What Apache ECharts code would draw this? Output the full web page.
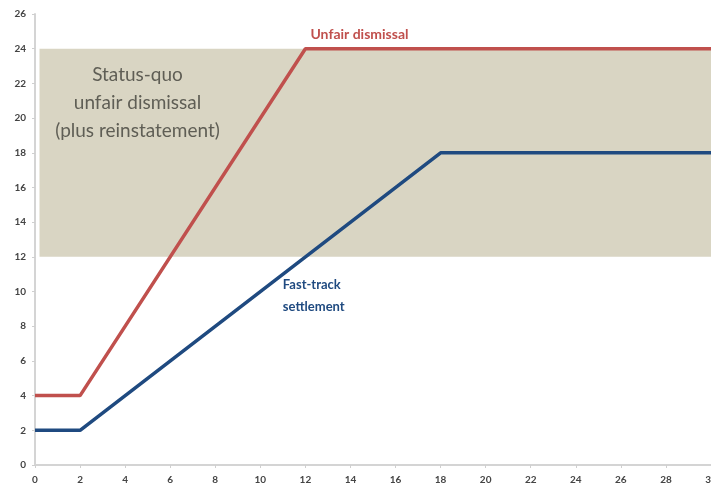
<!DOCTYPE html>
<html>
<head>
<meta charset="utf-8">
<script src="https://cdn.jsdelivr.net/npm/echarts@6/dist/echarts.min.js"></script>
<style>
  html, body { margin: 0; padding: 0; background: #fff; }
  #main { width: 711px; height: 489px; }
</style>
</head>
<body>
<div id="main"></div>
<script>
// months vs cost
var unfairPts = [[0, 4], [2, 4], [12, 24], [30, 24]];
var fastPts = [[0, 2], [2, 2], [18, 18], [30, 18]];
var bandRange = [12, 24];   // status-quo band, y from/to
var xTicks = [0, 30, 2];    // min, max, step
var yTicks = [0, 26, 2];

var chart = echarts.init(document.getElementById('main'));
var fontFam = 'Lato, "Open Sans", sans-serif';

var option = {
  animation: false,
  grid: { left: 35, right: 0, top: 14, bottom: 24, outerBoundsMode: 'none', containLabel: false },
  xAxis: {
    type: 'value', min: xTicks[0], max: xTicks[1], interval: xTicks[2],
    axisLine: { lineStyle: { color: '#d4d4d4', width: 2 } },
    axisTick: { show: true, length: 3, lineStyle: { color: '#cfcfcf' } },
    axisLabel: { color: '#444', fontSize: 10, fontFamily: fontFam, fontWeight: 'bold', margin: 10 },
    splitLine: { show: false }
  },
  yAxis: {
    type: 'value', min: yTicks[0], max: yTicks[1], interval: yTicks[2],
    axisLine: { show: true, lineStyle: { color: '#d4d4d4', width: 2 } },
    axisTick: { show: true, length: 3, lineStyle: { color: '#cfcfcf' } },
    axisLabel: { color: '#444', fontSize: 10, fontFamily: fontFam, fontWeight: 'bold', margin: 9 },
    splitLine: { show: false }
  },
  series: [
    {
      name: 'Unfair dismissal',
      type: 'line',
      data: unfairPts,
      symbol: 'none',
      z: 3,
      lineStyle: { color: '#c0504d', width: 3.5 },
      markArea: {
        silent: true,
        itemStyle: { color: '#d9d5c3' },
        data: [[{ xAxis: 0.2, yAxis: bandRange[0] }, { xAxis: xTicks[1], yAxis: bandRange[1] }]]
      },
      markPoint: {
        symbol: 'circle', symbolSize: 0, silent: true,
        data: [
          {
            coord: [14.4, 24.8],
            label: {
              show: true, formatter: 'Unfair dismissal', position: 'inside',
              color: '#c0504d', fontSize: 14, fontWeight: 'bold', fontFamily: fontFam
            }
          },
          {
            coord: [4.55, 20.86],
            label: {
              show: true, position: 'inside', align: 'center',
              formatter: 'Status-quo\nunfair dismissal\n(plus reinstatement)',
              color: '#5f5e55', fontSize: 19, lineHeight: 28, fontFamily: fontFam
            }
          }
        ]
      }
    },
    {
      name: 'Fast-track settlement',
      type: 'line',
      data: fastPts,
      symbol: 'none',
      z: 3,
      lineStyle: { color: '#1f4a80', width: 3.5 },
      markPoint: {
        symbol: 'circle', symbolSize: 0, silent: true,
        data: [
          {
            coord: [11.0, 9.74],
            label: {
              show: true, position: 'right', distance: 0, align: 'left',
              formatter: 'Fast-track\nsettlement', lineHeight: 22,
              color: '#1f4a80', fontSize: 13, fontWeight: 'bold', fontFamily: fontFam
            }
          }
        ]
      }
    }
  ]
};

chart.setOption(option);
</script>
</body>
</html>
